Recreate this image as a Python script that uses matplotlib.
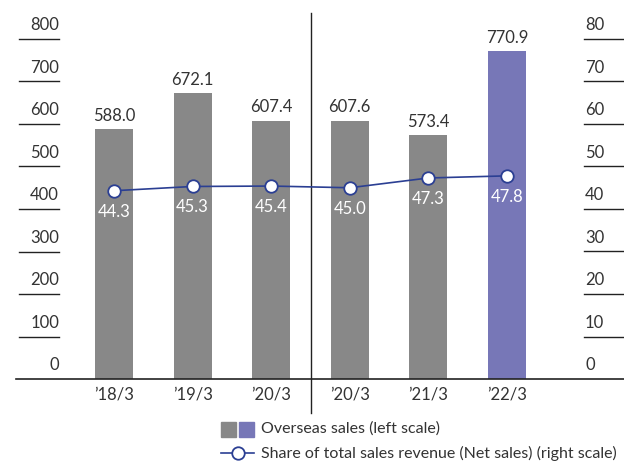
import matplotlib
matplotlib.use("Agg")
from matplotlib import pyplot as plt
from matplotlib.patches import Rectangle
from matplotlib.lines import Line2D

plt.rcParams["font.family"] = ["Lato", "DejaVu Sans"]

periods = ["\u201918/3", "\u201919/3", "\u201920/3", "\u201920/3", "\u201921/3", "\u201922/3"]
overseas_sales = [588.0, 672.1, 607.4, 607.6, 573.4, 770.9]
sales_share = [44.3, 45.3, 45.4, 45.0, 47.3, 47.8]
left_ticks = [0, 100, 200, 300, 400, 500, 600, 700, 800]
right_ticks = [0, 10, 20, 30, 40, 50, 60, 70, 80]

GRAY = "#888888"
PURPLE = "#7777b7"
BLUE = "#2b3f93"
TEXT = "#333333"

W, H = 624, 463
fig = plt.figure(figsize=(W / 100, H / 100), dpi=100)

# axes placed by pixel: top 13, bottom 379, full width
ax = fig.add_axes([0, 1 - 379 / H, 1, (379 - 13) / H])
step = 78.6
x0 = 114
ax.set_xlim(-x0 / step, (W - x0) / step)
ymax = 800 * (379 - 13) / (379 - 39)
ax.set_ylim(0, ymax)
ax.axis("off")

ax2 = ax.twinx()
ax2.set_ylim(0, ymax / 10)
ax2.axis("off")

xs = list(range(len(periods)))
colors = [GRAY] * 5 + [PURPLE]
ax.bar(xs, overseas_sales, width=38 / step, color=colors, zorder=2)
for x, v in zip(xs, overseas_sales):
    ax.annotate(f"{v:.1f}", (x, v), xytext=(0, 4), textcoords="offset points",
                ha="center", va="bottom", fontsize=12, color=TEXT)

ax2.plot(xs, sales_share, color=BLUE, lw=1.2, marker="o", ms=9,
         markerfacecolor="white", markeredgecolor=BLUE, markeredgewidth=1.3, zorder=5)
for x, v in zip(xs, sales_share):
    ax2.annotate(f"{v:.1f}", (x, v), xytext=(0, -15), textcoords="offset points",
                 ha="center", va="center", fontsize=12, color="white", zorder=6)

def px(p):
    return (p - x0) / step

# left scale
for t in left_ticks:
    if t > 0:
        ax.plot([px(19), px(59)], [t, t], color="#222222", lw=1, clip_on=False)
    ax.annotate(str(t), (px(59), t), xytext=(0, 4), textcoords="offset points",
                ha="right", va="bottom", fontsize=12, color=TEXT, annotation_clip=False)

# right scale
for t in right_ticks:
    if t > 0:
        ax2.plot([px(584), px(W)], [t, t], color="#222222", lw=1, clip_on=False)
    ax2.annotate(str(t), (px(585), t), xytext=(0, 4), textcoords="offset points",
                 ha="left", va="bottom", fontsize=12, color=TEXT, annotation_clip=False)

# baseline and divider
ax.plot([px(16), px(W)], [0, 0], color="#222222", lw=1.2, clip_on=False, zorder=3)
ax.plot([2.5, 2.5], [-(413 - 379) / (379 - 39) * 800, ymax], color="#222222", lw=1,
        clip_on=False, zorder=3)

for x, p in zip(xs, periods):
    ax.annotate(p, (x, 0), xytext=(0, -11), textcoords="offset points",
                ha="center", va="center", fontsize=12, color=TEXT, annotation_clip=False)

# legend drawn by hand
def fy(p):
    return 1 - p / H

def fx(p):
    return p / W

fig.patches.append(Rectangle((fx(221), fy(437)), 15 / W, 15 / H, color=GRAY,
                             transform=fig.transFigure))
fig.patches.append(Rectangle((fx(239), fy(437)), 15 / W, 15 / H, color=PURPLE,
                             transform=fig.transFigure))
fig.text(fx(261), fy(429), "Overseas sales (left scale)", ha="left", va="center",
         fontsize=11.5, color=TEXT)
fig.lines.append(Line2D([fx(221), fx(254)], [fy(453), fy(453)], color=BLUE, lw=1.2,
                        transform=fig.transFigure))
fig.lines.append(Line2D([fx(237.5)], [fy(453)], marker="o", ms=9, markerfacecolor="white",
                        markeredgecolor=BLUE, markeredgewidth=1.3, transform=fig.transFigure))
fig.text(fx(261), fy(453), "Share of total sales revenue (Net sales) (right scale)",
         ha="left", va="center", fontsize=11.5, color=TEXT)

fig.savefig("out.png", dpi=100)
